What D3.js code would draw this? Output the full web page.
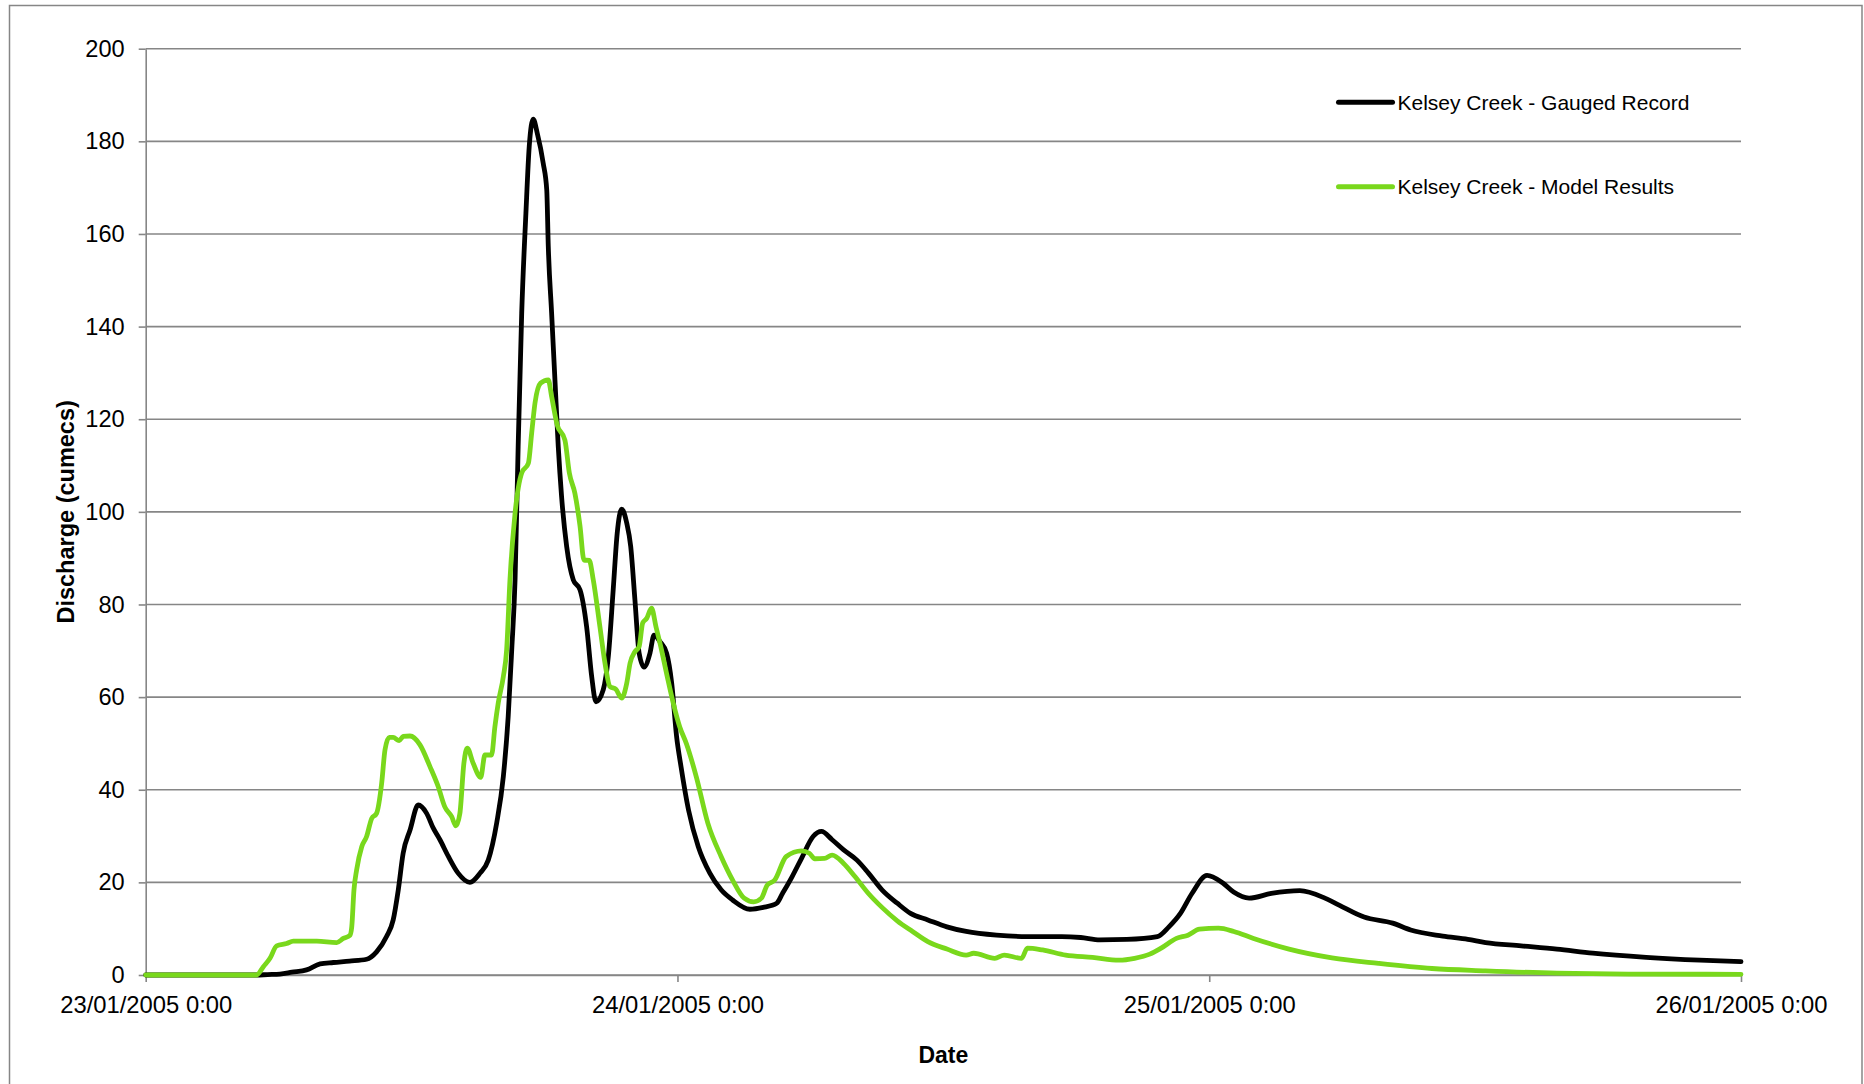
<!DOCTYPE html>
<html>
<head>
<meta charset="utf-8">
<script src="https://cdn.jsdelivr.net/npm/d3@7"></script>
<style>
  html, body { margin: 0; padding: 0; background: #fff; }
  svg { display: block; font-family: "Liberation Sans", Arial, sans-serif; }
</style>
</head>
<body>
<svg id="chart" width="1864" height="1084"></svg>
<script>
// Hours after 23/01/2005 0:00 and discharge (cumecs)
const gaugedHours = [0, 5.0, 5.5, 6.06, 6.6, 7.26, 7.87, 8.47, 9.2, 9.97, 10.42, 10.87, 11.17, 11.4, 11.62, 11.93, 12.3, 12.68, 12.98, 13.28, 13.66, 14.1, 14.63, 15.09, 15.46, 15.84, 16.14, 16.36, 16.52, 16.67, 16.81, 16.97, 17.16, 17.31, 17.49, 17.67, 17.94, 18.1, 18.17, 18.32, 18.47, 18.62, 18.77, 19.0, 19.3, 19.6, 19.9, 20.13, 20.32, 20.65, 20.88, 21.1, 21.28, 21.48, 21.71, 21.89, 22.08, 22.27, 22.49, 22.76, 22.94, 23.21, 23.51, 23.74, 23.96, 24.16, 24.5, 24.94, 25.46, 25.97, 26.49, 27.27, 27.87, 28.48, 28.74, 29.17, 29.6, 30.12, 30.5, 30.98, 31.5, 32.1, 32.62, 33.23, 33.92, 34.52, 35.3, 36.16, 37.03, 38.4, 39.79, 41.34, 42.2, 43.07, 44.28, 45.66, 46.18, 46.7, 47.22, 47.9, 48.6, 49.1, 49.8, 50.8, 52.09, 53.22, 53.86, 54.99, 56.28, 57.09, 58.54, 59.67, 60.47, 62.08, 63.69, 65.31, 67.72, 70.14, 72.0];
const gaugedFlow = [0, 0, 0.1, 0.2, 0.6, 1.1, 2.4, 2.7, 3.0, 3.4, 5.0, 8.3, 11.9, 18.4, 26.3, 31.3, 36.7, 34.9, 31.7, 29.2, 25.6, 22.0, 20.0, 22.0, 24.8, 32.8, 42.8, 55.8, 70.2, 85.3, 114.1, 142.9, 164.5, 178.9, 184.8, 181.8, 175.3, 169.5, 157.3, 142.9, 128.5, 114.1, 103.3, 92.5, 85.3, 83.2, 75.2, 64.4, 59.0, 61.6, 68.8, 83.2, 95.4, 100.6, 97.6, 92.5, 81.0, 69.5, 66.5, 69.5, 73.4, 72.0, 69.5, 63.0, 51.5, 45.0, 35.6, 27.7, 22.0, 18.4, 16.2, 14.2, 14.6, 15.5, 17.6, 21.2, 25.2, 29.9, 31.0, 29.2, 27.0, 24.8, 22.0, 18.4, 15.5, 13.3, 11.9, 10.4, 9.4, 8.6, 8.3, 8.3, 8.1, 7.6, 7.7, 8.3, 10.4, 13.3, 17.6, 21.5, 19.9, 17.9, 16.6, 17.6, 18.2, 16.6, 15.1, 12.5, 11.2, 9.7, 8.4, 7.7, 7.0, 6.3, 5.6, 4.7, 3.8, 3.2, 2.9];

const modelHours = [0, 5.0, 5.31, 5.61, 5.91, 6.36, 6.66, 7.72, 8.62, 8.92, 9.22, 9.3, 9.4, 9.52, 9.75, 9.97, 10.2, 10.42, 10.65, 10.8, 10.99, 11.17, 11.44, 11.62, 11.93, 12.38, 12.83, 13.2, 13.5, 13.81, 14.0, 14.18, 14.36, 14.51, 14.78, 15.12, 15.31, 15.61, 15.76, 15.91, 16.14, 16.29, 16.44, 16.67, 16.97, 17.27, 17.42, 17.57, 17.82, 18.17, 18.32, 18.57, 18.92, 19.12, 19.37, 19.6, 19.78, 20.02, 20.2, 20.5, 20.73, 20.95, 21.22, 21.48, 21.71, 21.86, 22.08, 22.27, 22.43, 22.61, 22.83, 23.03, 23.28, 23.54, 23.81, 24.1, 24.4, 24.85, 25.37, 25.97, 26.49, 27.01, 27.44, 27.79, 28.05, 28.39, 28.91, 29.6, 29.95, 30.2, 30.64, 30.98, 31.5, 32.02, 32.62, 33.23, 33.92, 34.61, 35.3, 36.16, 37.03, 37.37, 38.32, 38.75, 39.53, 39.79, 40.48, 41.52, 42.73, 43.93, 44.63, 45.32, 45.83, 46.52, 47.04, 47.56, 48.42, 49.11, 50.0, 51.6, 53.54, 55.64, 58.05, 60.47, 63.69, 66.92, 72.0];
const modelFlow = [0, 0, 1.8, 3.6, 6.3, 6.8, 7.3, 7.3, 7.0, 7.9, 8.6, 10.4, 18.4, 22.7, 27.7, 29.9, 33.8, 34.9, 41.4, 48.6, 51.3, 51.3, 50.6, 51.5, 51.6, 49.7, 45.0, 40.7, 36.3, 34.2, 32.2, 34.9, 45.7, 49.0, 45.7, 42.7, 47.5, 47.5, 53.6, 58.7, 64.4, 70.2, 85.3, 99.7, 108.4, 110.5, 117.0, 123.5, 127.8, 128.5, 124.9, 118.8, 115.5, 108.4, 104.0, 97.0, 89.6, 89.5, 85.3, 75.2, 67.3, 62.3, 61.7, 59.8, 63.0, 67.3, 69.8, 70.9, 76.0, 77.0, 79.2, 75.2, 70.2, 64.4, 58.7, 53.6, 50.0, 42.8, 32.8, 25.6, 20.5, 16.6, 15.8, 16.6, 19.4, 20.5, 25.6, 26.8, 26.3, 25.1, 25.2, 25.9, 24.1, 21.2, 17.6, 14.6, 11.7, 9.4, 7.2, 5.6, 4.3, 4.7, 3.6, 4.3, 3.6, 5.8, 5.4, 4.3, 3.8, 3.2, 3.6, 4.5, 5.8, 7.9, 8.6, 9.9, 10.1, 9.4, 7.9, 5.6, 3.7, 2.5, 1.4, 0.9, 0.4, 0.2, 0.15];

const seriesNames = ["Kelsey Creek - Gauged Record", "Kelsey Creek - Model Results"];
const seriesColors = ["#000000", "#79d81c"];
const yTicks = [0, 20, 40, 60, 80, 100, 120, 140, 160, 180, 200];
const xTitle = "Date";
const yTitle = "Discharge (cumecs)";

const startDate = new Date(2005, 0, 23, 0, 0);
const endDate = new Date(2005, 0, 26, 0, 0);
const toDate = h => new Date(startDate.getTime() + h * 3600e3);

const series = [
  gaugedHours.map((h, i) => ({ t: toDate(h), v: gaugedFlow[i] })),
  modelHours.map((h, i) => ({ t: toDate(h), v: modelFlow[i] }))
];

const svg = d3.select("#chart");
const plot = { left: 145.7, right: 1741, top: 48.7, bottom: 975 };
const gridColor = "#868686";

// chart area frame
svg.append("rect")
  .attr("x", 9.5).attr("y", 5.5)
  .attr("width", 1852.5).attr("height", 1100)
  .attr("fill", "none").attr("stroke", gridColor).attr("stroke-width", 1.5);

const x = d3.scaleTime().domain([startDate, endDate]).range([plot.left, plot.right]);
const y = d3.scaleLinear().domain([0, 200]).range([plot.bottom, plot.top]);

// horizontal gridlines
svg.append("g").selectAll("line").data(yTicks).join("line")
  .attr("x1", plot.left).attr("x2", plot.right)
  .attr("y1", d => y(d)).attr("y2", d => y(d))
  .attr("stroke", gridColor).attr("stroke-width", 1.6);

// y axis
const yAxis = svg.append("g")
  .attr("transform", `translate(${plot.left},0)`)
  .call(d3.axisLeft(y).tickValues(yTicks).tickSize(7).tickPadding(14).tickSizeOuter(0));
yAxis.select(".domain").attr("stroke", gridColor).attr("stroke-width", 1.6);
yAxis.selectAll(".tick line").attr("stroke", gridColor).attr("stroke-width", 1.6);
yAxis.selectAll(".tick text")
  .attr("fill", "#000")
  .style("font-size", "23.6px")
  .style("font-family", "'Liberation Sans', Arial, sans-serif");

// x axis
const xAxis = svg.append("g")
  .attr("transform", `translate(0,${plot.bottom})`)
  .call(d3.axisBottom(x)
    .ticks(d3.timeDay.every(1))
    .tickFormat(d3.timeFormat("%d/%m/%Y %-H:%M"))
    .tickSize(7).tickPadding(14).tickSizeOuter(0));
xAxis.select(".domain").attr("stroke", gridColor).attr("stroke-width", 1.6);
xAxis.selectAll(".tick line").attr("stroke", gridColor).attr("stroke-width", 1.6);
xAxis.selectAll(".tick text")
  .attr("fill", "#000")
  .style("font-size", "23.8px")
  .style("font-family", "'Liberation Sans', Arial, sans-serif");

// discharge lines
const line = d3.line()
  .x(d => x(d.t))
  .y(d => y(d.v))
  .curve(d3.curveMonotoneX);

series.forEach((s, i) => {
  svg.append("path")
    .datum(s)
    .attr("d", line)
    .attr("fill", "none")
    .attr("stroke", seriesColors[i])
    .attr("stroke-width", 4.8)
    .attr("stroke-linejoin", "round")
    .attr("stroke-linecap", "round");
});

// axis titles
svg.append("text")
  .attr("x", (plot.left + plot.right) / 2)
  .attr("y", 1063)
  .attr("text-anchor", "middle")
  .style("font-size", "23px").style("font-weight", "bold")
  .text(xTitle);

svg.append("text")
  .attr("transform", `translate(74,${(plot.top + plot.bottom) / 2}) rotate(-90)`)
  .attr("text-anchor", "middle")
  .style("font-size", "23.5px").style("font-weight", "bold")
  .text(yTitle);

// legend
const legendY = [102.3, 186.7];
const legend = svg.append("g");
seriesNames.forEach((name, i) => {
  legend.append("line")
    .attr("x1", 1338.5).attr("x2", 1392.5)
    .attr("y1", legendY[i]).attr("y2", legendY[i])
    .attr("stroke", seriesColors[i]).attr("stroke-width", 5)
    .attr("stroke-linecap", "round");
  legend.append("text")
    .attr("x", 1397.5).attr("y", legendY[i] + 7.6)
    .style("font-size", "21px")
    .text(name);
});
</script>
</body>
</html>
